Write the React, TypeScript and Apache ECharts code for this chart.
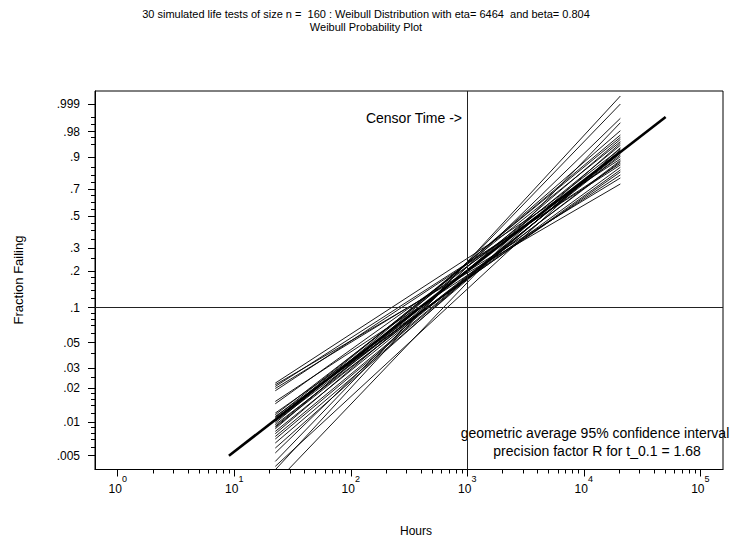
import React, { useEffect, useRef } from 'react';
import * as echarts from 'echarts';

const titleLine1 = '30 simulated life tests of size n =  160 : Weibull Distribution with eta= 6464  and beta= 0.804';
const titleLine2 = 'Weibull Probability Plot';
const xAxisTitle = 'Hours';
const yAxisTitle = 'Fraction Failing';
const censorLabel = 'Censor Time ->';
const noteLine1 = 'geometric average 95% confidence interval';
const noteLine2 = 'precision factor R for t_0.1 = 1.68';

// x axis (hours, log scale) ticks
const xTickExponents = [0, 1, 2, 3, 4, 5];
const xMinorMultipliers = [2, 3, 4, 5, 6, 7, 8, 9];
const xRangeHours = [0.638, 156600];

// y axis (fraction failing, Weibull scale) ticks
const yTickFractions = [0.005, 0.01, 0.02, 0.03, 0.05, 0.1, 0.2, 0.3, 0.5, 0.7, 0.9, 0.98, 0.999];
const yTickLabels = ['.005', '.01', '.02', '.03', '.05', '.1', '.2', '.3', '.5', '.7', '.9', '.98', '.999'];
const yMinorFractions = [
  0.006, 0.007, 0.008, 0.009, 0.012, 0.014, 0.016, 0.018, 0.025, 0.04,
  0.06, 0.07, 0.08, 0.09, 0.12, 0.14, 0.16, 0.18, 0.25, 0.35, 0.4, 0.45,
  0.55, 0.6, 0.65, 0.75, 0.8, 0.85, 0.95, 0.97, 0.99, 0.995,
];
const yRangeFractions = [0.003771, 0.99988];

// 30 simulated fitted lines, drawn between a common start and end time
const simStartHours = 22.5;
const simEndHours = 20600;
const simStartFractions = [
  0.02206, 0.02132, 0.0206, 0.01978, 0.01888, 0.01518, 0.01448, 0.01198, 0.01157, 0.01118,
  0.011, 0.01082, 0.01045, 0.0101, 0.00977, 0.00944, 0.00912, 0.00897, 0.00869, 0.00823,
  0.00785, 0.00742, 0.00704, 0.00649, 0.00585, 0.00529, 0.00445, 0.00402, 0.00375, 0.00285,
];
const simEndFractions = [
  0.8928, 0.7372, 0.8611, 0.7794, 0.8705, 0.7996, 0.90375, 0.8191, 0.93627, 0.8316,
  0.95863, 0.8478, 0.96937, 0.879, 0.97414, 0.8853, 0.94807, 0.91141, 0.98154, 0.91873,
  0.96477, 0.92525, 0.92799, 0.93184, 0.95413, 0.9942, 0.999, 0.94015, 0.99971, 0.99095,
];

// true Weibull line
const trueHours = [9, 50400];
const trueFractions = [0.005, 0.995];

const censorHours = 1000;
const refFraction = 0.1;

const FONT = 'Liberation Sans, Arial, Helvetica, sans-serif';

const lx = (h: number) => Math.log10(h);
const wz = (f: number) => Math.log(-Math.log(1 - f));

export default function App() {
  const ref = useRef<HTMLDivElement>(null);

  useEffect(() => {
    if (!ref.current) return;
    const chart = echarts.init(ref.current, undefined, { renderer: 'svg' });

    const xMin = lx(xRangeHours[0]);
    const xMax = lx(xRangeHours[1]);
    const yMin = wz(yRangeFractions[0]);
    const yMax = wz(yRangeFractions[1]);

    const xMajor = xTickExponents.map((e) => e);
    const xMinor: number[] = [];
    xTickExponents.slice(0, -1).forEach((e) => {
      xMinorMultipliers.forEach((m) => xMinor.push(lx(m * Math.pow(10, e))));
    });
    const yMajor = yTickFractions.map(wz);
    const yMinor = yMinorFractions.map(wz);

    const lineStyleThin = { color: '#000', width: 0.9 };

    const simSeries = simStartFractions.map((f0, i) => ({
      type: 'line',
      xAxisIndex: 0,
      yAxisIndex: 0,
      symbol: 'none',
      silent: true,
      clip: true,
      lineStyle: lineStyleThin,
      data: [
        [lx(simStartHours), wz(f0)],
        [lx(simEndHours), wz(simEndFractions[i])],
      ],
      z: 3,
    }));

    const baseX = {
      type: 'value',
      gridIndex: 0,
      position: 'bottom',
      min: xMin,
      max: xMax,
      splitLine: { show: false },
    };
    const baseY = {
      type: 'value',
      gridIndex: 0,
      position: 'left',
      min: yMin,
      max: yMax,
      splitLine: { show: false },
    };

    chart.setOption({
      animation: false,
      backgroundColor: '#fff',
      grid: {
        left: 95,
        top: 91,
        right: 9,
        bottom: 69.5,
        show: true,
        borderColor: '#000',
        borderWidth: 1,
        backgroundColor: 'transparent',
      },
      xAxis: [
        {
          ...baseX,
          axisLine: { show: true, onZero: false, lineStyle: { color: '#000', width: 1 } },
          axisTick: { show: true, inside: false, length: 7, customValues: xMajor, lineStyle: { color: '#000', width: 1 } },
          axisLabel: {
            show: true,
            customValues: xMajor,
            margin: 5,
            formatter: (v: number) => `{b|10}{s|${Math.round(v)}}`,
            rich: {
              b: { fontFamily: FONT, fontSize: 12, color: '#000', lineHeight: 20, verticalAlign: 'bottom' },
              s: { fontFamily: FONT, fontSize: 9, color: '#000', lineHeight: 20, verticalAlign: 'top' },
            },
          },
        },
        {
          ...baseX,
          axisLine: { show: false, onZero: false },
          axisLabel: { show: false },
          axisTick: { show: true, inside: false, length: 4, customValues: xMinor, lineStyle: { color: '#000', width: 1 } },
        },
      ],
      yAxis: [
        {
          ...baseY,
          axisLine: { show: true, onZero: false, lineStyle: { color: '#000', width: 1 } },
          axisTick: { show: true, inside: false, length: 7, customValues: yMajor, lineStyle: { color: '#000', width: 1 } },
          axisLabel: {
            show: true,
            customValues: yMajor,
            margin: 15,
            fontFamily: FONT,
            fontSize: 12,
            color: '#000',
            formatter: (v: number) => {
              let best = 0;
              let bd = Infinity;
              yMajor.forEach((t, i) => {
                const d = Math.abs(t - v);
                if (d < bd) {
                  bd = d;
                  best = i;
                }
              });
              return yTickLabels[best];
            },
          },
        },
        {
          ...baseY,
          axisLine: { show: false, onZero: false },
          axisLabel: { show: false },
          axisTick: { show: true, inside: false, length: 4, customValues: yMinor, lineStyle: { color: '#000', width: 1 } },
        },
      ],
      series: [
        ...simSeries,
        {
          type: 'line',
          xAxisIndex: 0,
          yAxisIndex: 0,
          symbol: 'none',
          silent: true,
          clip: true,
          lineStyle: { color: '#000', width: 2.6 },
          data: trueHours.map((h, i) => [lx(h), wz(trueFractions[i])]),
          z: 4,
          markLine: {
            silent: true,
            symbol: ['none', 'none'],
            label: { show: false },
            lineStyle: { color: '#222', width: 1, type: 'solid' },
            data: [{ xAxis: lx(censorHours) }, { yAxis: wz(refFraction) }],
          },
        },
      ],
      graphic: [
        {
          type: 'text',
          x: 366,
          y: 14,
          style: { text: titleLine1, fontFamily: FONT, fontSize: 11, fill: '#000', textAlign: 'center', textVerticalAlign: 'middle' },
        },
        {
          type: 'text',
          x: 366,
          y: 27,
          style: { text: titleLine2, fontFamily: FONT, fontSize: 11, fill: '#000', textAlign: 'center', textVerticalAlign: 'middle' },
        },
        {
          type: 'text',
          x: 462,
          y: 118,
          style: { text: censorLabel, fontFamily: FONT, fontSize: 14, fill: '#000', textAlign: 'right', textVerticalAlign: 'middle' },
        },
        {
          type: 'text',
          x: 595,
          y: 433,
          style: { text: noteLine1, fontFamily: FONT, fontSize: 14, fill: '#000', textAlign: 'center', textVerticalAlign: 'middle' },
        },
        {
          type: 'text',
          x: 597,
          y: 451,
          style: { text: noteLine2, fontFamily: FONT, fontSize: 14, fill: '#000', textAlign: 'center', textVerticalAlign: 'middle' },
        },
        {
          type: 'text',
          x: 416,
          y: 531,
          style: { text: xAxisTitle, fontFamily: FONT, fontSize: 12, fill: '#000', textAlign: 'center', textVerticalAlign: 'middle' },
        },
        {
          type: 'text',
          x: 18,
          y: 280,
          rotation: Math.PI / 2,
          style: { text: yAxisTitle, fontFamily: FONT, fontSize: 13, fill: '#000', textAlign: 'center', textVerticalAlign: 'middle' },
        },
      ],
    });

    return () => chart.dispose();
  }, []);

  return (
    <div
      ref={ref}
      style={{ position: 'absolute', left: 0, top: 0, width: 732, height: 539, background: '#fff' }}
    />
  );
}
